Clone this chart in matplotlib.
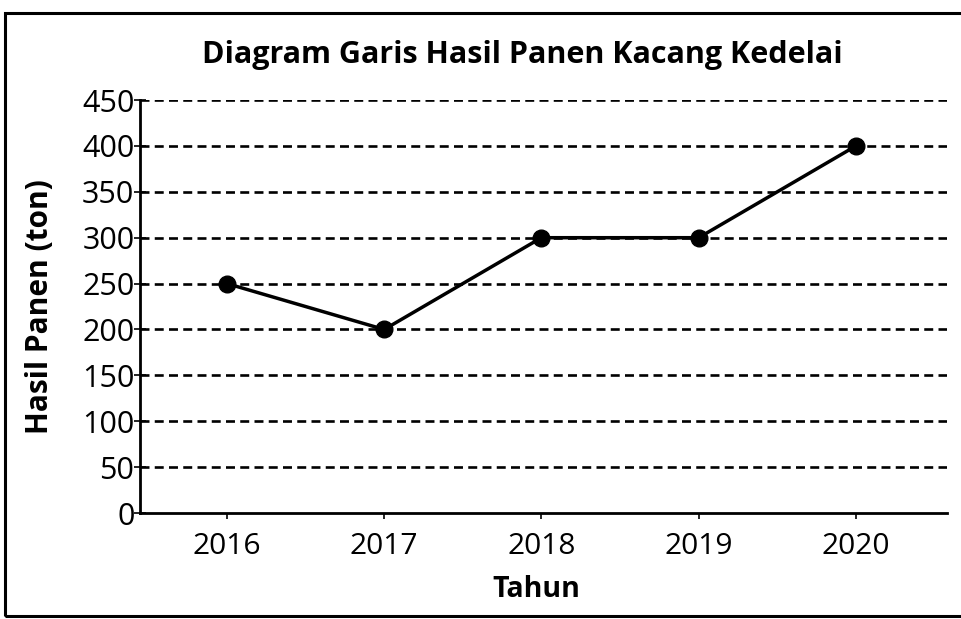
import matplotlib
matplotlib.use("Agg")
import matplotlib.pyplot as plt
from matplotlib.patches import Rectangle

years = ["2016", "2017", "2018", "2019", "2020"]
harvest = [250, 200, 300, 300, 400]
y_ticks = [0, 50, 100, 150, 200, 250, 300, 350, 400, 450]

plt.rcParams['font.family'] = ['Open Sans', 'DejaVu Sans']

fig = plt.figure(figsize=(9.62, 6.19), dpi=100)
ax = fig.add_axes([0.1455, 0.1712, 0.8389, 0.6672])

x = list(range(len(years)))
# dashed guide lines
for t in y_ticks[1:]:
    ax.axhline(t, color='black', linestyle=(0, (3.4, 2.0)), linewidth=1.9, zorder=1)

ax.plot(x, harvest, color='black', linewidth=2.5, marker='o', markersize=12, zorder=3)

ax.set_xlim(-0.553, 4.579)
ax.set_ylim(0, 450)
ax.set_xticks(x)
ax.set_xticklabels(years)
ax.set_yticks(y_ticks)
ax.tick_params(axis='y', direction='inout', length=8, width=1.2, labelsize=22, pad=0)
ax.tick_params(axis='x', direction='out', length=4, width=1.2, labelsize=21.5, pad=10)

for side in ['top', 'right']:
    ax.spines[side].set_visible(False)
ax.spines['left'].set_linewidth(2)
ax.spines['bottom'].set_linewidth(2)

fig.text(0.5426, 0.911, 'Diagram Garis Hasil Panen Kacang Kedelai', ha='center', va='center',
         fontsize=22, fontweight='bold')
fig.text(0.0416, 0.504, 'Hasil Panen (ton)', ha='center', va='center', rotation=90,
         fontsize=21.5, fontweight='bold')
fig.text(0.558, 0.047, 'Tahun', ha='center', va='center', fontsize=20.5, fontweight='bold')

fig.patches.append(Rectangle((5 / 962, 1 - 616 / 619), 1.0, (616 - 13) / 619,
                             transform=fig.transFigure, fill=False, edgecolor='black',
                             linewidth=2.2))

fig.savefig('out.png', dpi=100)
